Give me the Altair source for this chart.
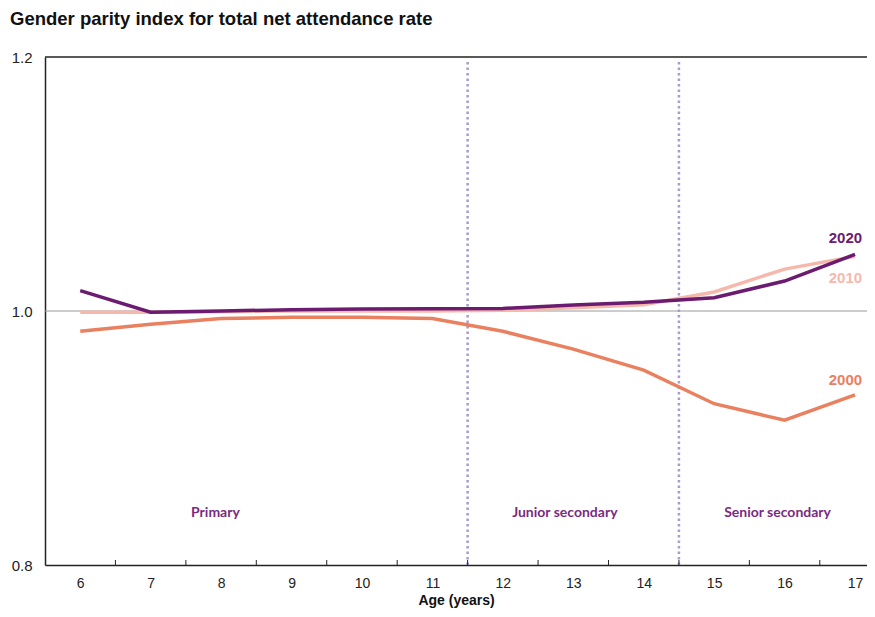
import pandas as pd
import altair as alt

# values
ages = list(range(6, 18))
gpi_2000 = [0.984, 0.9895, 0.994, 0.995, 0.995, 0.994, 0.984, 0.970, 0.9535, 0.927, 0.914, 0.934]
gpi_2010 = [0.999, 0.999, 0.9995, 1.000, 1.000, 1.000, 1.0006, 1.0025, 1.005, 1.015, 1.033, 1.043]
gpi_2020 = [1.016, 0.999, 1.000, 1.001, 1.0015, 1.0018, 1.002, 1.0047, 1.0068, 1.0105, 1.0236, 1.0446]

years = ["2000", "2010", "2020"]
line_colors = ["#E9805F", "#F6B8AB", "#6B1B70"]

label_x = [17.1, 17.1, 17.1]
label_y = [0.9457, 1.026, 1.0575]

tick_bounds = [6.5, 7.5, 8.5, 9.5, 10.5, 11.5, 12.5, 13.5, 14.5, 15.5, 16.5]
stage_breaks = [11.5, 14.5]
stage_names = ["Primary", "Junior secondary", "Senior secondary"]
stage_x = [7.92, 12.88, 15.9]
stage_y = [0.841, 0.841, 0.841]

W, H = 822, 508
NARROW = "Liberation Sans Narrow, Arial Narrow, Liberation Sans, sans-serif"

rows = []
for yr, vals in zip(years, [gpi_2000, gpi_2010, gpi_2020]):
    for a, v in zip(ages, vals):
        rows.append({"age": a, "gpi": v, "year": yr})
df = pd.DataFrame(rows)

xs = alt.Scale(domain=[5.5, 17.17], nice=False, zero=False)
ys = alt.Scale(domain=[0.8, 1.2], nice=False, zero=False)
cs = alt.Scale(domain=years, range=line_colors)

lines = alt.Chart(df).mark_line(strokeWidth=3.5).encode(
    x=alt.X("age:Q", scale=xs, axis=alt.Axis(values=ages, format="d", ticks=False,
                                             title="Age (years)")),
    y=alt.Y("gpi:Q", scale=ys, axis=alt.Axis(values=[0.8, 1.0, 1.2], format=".1f",
                                             ticks=False, title=None)),
    color=alt.Color("year:N", scale=cs, legend=None),
)

par_line = alt.Chart(pd.DataFrame({"y": [1.0]})).mark_rule(color="#9a9a9a", strokeWidth=1).encode(
    y=alt.Y("y:Q", scale=ys)
)

top_border = alt.Chart(pd.DataFrame({"y": [1.2]})).mark_rule(color="#222222", strokeWidth=1.5).encode(
    y=alt.Y("y:Q", scale=ys)
)

ticks = alt.Chart(pd.DataFrame({"x": tick_bounds})).mark_rule(color="#222222", strokeWidth=1).encode(
    x=alt.X("x:Q", scale=xs),
    y=alt.value(H - 5),
    y2=alt.value(H),
)

breaks = alt.Chart(pd.DataFrame({"x": stage_breaks})).mark_rule(
    color="#A99ACF", strokeWidth=2.5, strokeDash=[2.5, 3]
).encode(
    x=alt.X("x:Q", scale=xs),
    y=alt.value(5),
    y2=alt.value(H),
)

stages = alt.Chart(pd.DataFrame({"x": stage_x, "y": stage_y, "name": stage_names})).mark_text(
    font="Lato", fontSize=14, fontWeight="bold", color="#7A2A82"
).encode(
    x=alt.X("x:Q", scale=xs),
    y=alt.Y("y:Q", scale=ys),
    text="name:N",
)

year_labels = alt.Chart(pd.DataFrame({"x": label_x, "y": label_y, "year": years})).mark_text(
    align="right", font="Liberation Sans", fontSize=15, fontWeight="bold"
).encode(
    x=alt.X("x:Q", scale=xs),
    y=alt.Y("y:Q", scale=ys),
    text="year:N",
    color=alt.Color("year:N", scale=cs, legend=None),
)

chart = alt.layer(par_line, breaks, ticks, top_border, lines, year_labels, stages).properties(
    width=W,
    height=H,
    autosize="none",
    padding={"left": 37, "top": 49, "right": 0, "bottom": 44},
    title=alt.TitleParams(
        "Gender parity index for total net attendance rate",
        anchor="start", frame="group", font="Liberation Sans", fontSize=18.5, fontWeight="bold",
        color="#111111", dx=-35, offset=22,
    ),
).configure_view(stroke=None).configure_axis(
    domainColor="#222222", domainWidth=1.5, grid=False,
    labelColor="#222222", titleColor="#111111",
).configure_axisY(
    labelFont="Liberation Sans", labelFontSize=15, labelPadding=13,
).configure_axisX(
    labelFont=NARROW, labelFontSize=14, labelPadding=11,
    titleFont=NARROW, titleFontSize=14, titleFontWeight="bold", titlePadding=3,
)

chart.save("out.html", embed_options={"renderer": "svg", "actions": False})
